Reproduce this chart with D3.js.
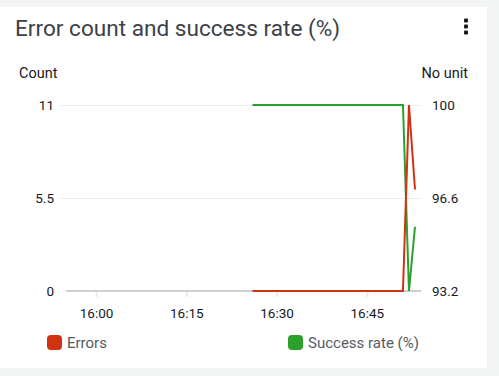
<!DOCTYPE html>
<html>
<head>
<meta charset="utf-8">
<script src="https://cdn.jsdelivr.net/npm/d3@7"></script>
<style>
  html, body { margin: 0; padding: 0; background: #f2f3f3; }
  svg { display: block; }
</style>
</head>
<body>
<div id="chart"></div>
<script>
// per-minute samples, 16:26 .. 16:53
const times = ["16:26","16:27","16:28","16:29","16:30","16:31","16:32","16:33","16:34","16:35",
               "16:36","16:37","16:38","16:39","16:40","16:41","16:42","16:43","16:44","16:45",
               "16:46","16:47","16:48","16:49","16:50","16:51","16:52","16:53"];
const errors = [0,0,0,0,0,0,0,0,0,0, 0,0,0,0,0,0,0,0,0,0, 0,0,0,0,0,0,11,6];
const successRate = [100,100,100,100,100,100,100,100,100,100, 100,100,100,100,100,100,100,100,100,100,
                     100,100,100,100,100,100,93.2,95.55];
const xTicks = ["16:00","16:15","16:30","16:45"];
const leftTicks = [0, 5.5, 11];
const rightTicks = [93.2, 96.6, 100];
const xDomain = ["15:54", "16:54"];

const width = 499, height = 376;
const plot = { left: 60, right: 421, top: 105, bottom: 291 };
const font = "Roboto, 'Open Sans', sans-serif";
const red = "#d13212", green = "#2ca02c";

const parse = d3.timeParse("%H:%M");
const fmt = d3.timeFormat("%H:%M");

const x = d3.scaleTime()
    .domain(xDomain.map(parse))
    .range([plot.left, plot.right]);
const yLeft = d3.scaleLinear()
    .domain([0, 11])
    .range([plot.bottom, plot.top]);
const yRight = d3.scaleLinear()
    .domain([93.2, 100])
    .range([plot.bottom, plot.top]);

const svg = d3.select("#chart").append("svg")
    .attr("width", width)
    .attr("height", height);

// card
svg.append("rect")
    .attr("x", 0).attr("y", 7)
    .attr("width", 487).attr("height", 361)
    .attr("fill", "#fff");

svg.append("text")
    .attr("x", 15).attr("y", 36)
    .attr("fill", "#3d4147")
    .style("font-family", font)
    .style("font-size", "22.6px")
    .text("Error count and success rate (%)");

// kebab menu
svg.append("g").selectAll("rect")
    .data([0, 1, 2])
    .join("rect")
    .attr("x", 464).attr("y", d => 18.5 + d * 6)
    .attr("width", 4).attr("height", 4).attr("rx", 1)
    .attr("fill", "#16191f");

svg.append("text")
    .attr("x", 19).attr("y", 78)
    .attr("fill", "#16191f")
    .style("font-family", font).style("font-size", "14.5px")
    .text("Count");
svg.append("text")
    .attr("x", 468).attr("y", 78)
    .attr("text-anchor", "end")
    .attr("fill", "#16191f")
    .style("font-family", font).style("font-size", "14.5px")
    .text("No unit");

// gridlines
svg.append("g")
    .attr("transform", `translate(${plot.left},0)`)
    .call(d3.axisLeft(yLeft).tickValues(leftTicks.filter(v => v > 0))
        .tickSize(-(plot.right - plot.left)).tickFormat(""))
    .call(g => g.select(".domain").remove())
    .call(g => g.selectAll(".tick line").attr("stroke", "#e9ebed"));

// x axis
svg.append("g")
    .attr("transform", `translate(0,${plot.bottom})`)
    .call(d3.axisBottom(x).tickValues(xTicks.map(parse)).tickSize(6).tickPadding(11).tickFormat(fmt))
    .call(g => g.select(".domain").remove())
    .call(g => g.selectAll(".tick line").attr("stroke", "#e9ebed").attr("stroke-width", 2))
    .call(g => g.selectAll(".tick text")
        .attr("fill", "#16191f")
        .style("font-family", font).style("font-size", "13.5px"));

svg.append("line")
    .attr("x1", 66).attr("x2", plot.right)
    .attr("y1", plot.bottom).attr("y2", plot.bottom)
    .attr("stroke", "#cfcfd3").attr("stroke-width", 2);

// y axes labels
svg.append("g")
    .attr("transform", `translate(${plot.left},0)`)
    .call(d3.axisLeft(yLeft).tickValues(leftTicks).tickSize(0).tickPadding(6).tickFormat(d => `${d}`))
    .call(g => g.select(".domain").remove())
    .call(g => g.selectAll(".tick text")
        .attr("fill", "#16191f")
        .style("font-family", font).style("font-size", "13.5px"));

svg.append("g")
    .attr("transform", `translate(${plot.right},0)`)
    .call(d3.axisRight(yRight).tickValues(rightTicks).tickSize(0).tickPadding(11).tickFormat(d => `${d}`))
    .call(g => g.select(".domain").remove())
    .call(g => g.selectAll(".tick text")
        .attr("fill", "#16191f")
        .style("font-family", font).style("font-size", "13.5px"));

// series
const errLine = d3.line()
    .x((d, i) => x(parse(times[i])))
    .y(d => yLeft(d));
const rateLine = d3.line()
    .x((d, i) => x(parse(times[i])))
    .y(d => yRight(d));

svg.append("path")
    .attr("d", rateLine(successRate))
    .attr("fill", "none").attr("stroke", green).attr("stroke-width", 2);
svg.append("path")
    .attr("d", errLine(errors))
    .attr("fill", "none").attr("stroke", red).attr("stroke-width", 2);

// legend
const legend = svg.append("g").selectAll("g")
    .data([{ label: "Errors", color: red, x: 47 }, { label: "Success rate (%)", color: green, x: 288 }])
    .join("g")
    .attr("transform", d => `translate(${d.x},335)`);
legend.append("rect")
    .attr("width", 15).attr("height", 15).attr("rx", 4)
    .attr("fill", d => d.color);
legend.append("text")
    .attr("x", 20).attr("y", 13)
    .attr("fill", "#545b64")
    .style("font-family", font).style("font-size", "15px")
    .text(d => d.label);
</script>
</body>
</html>
